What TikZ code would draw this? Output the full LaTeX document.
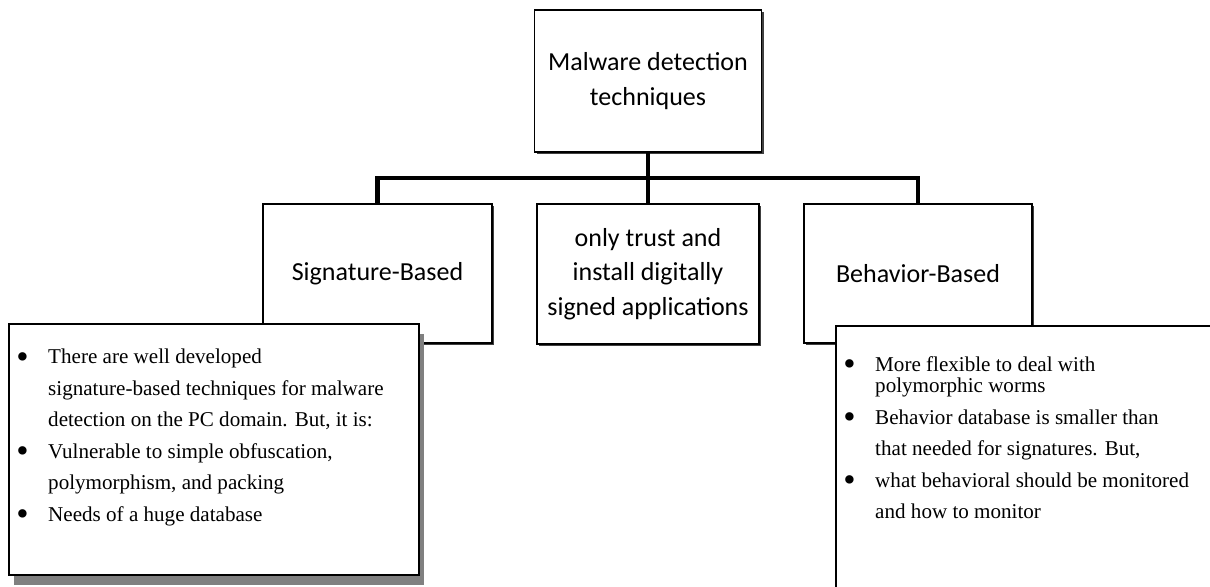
\documentclass[tikz,border=0pt]{standalone}
\usepackage{fontspec}
\setmainfont{Liberation Serif}
\newfontfamily\calfont{Carlito}
\usetikzlibrary{positioning, shadows, calc}
\tikzset{%
	tech/.style={draw, rectangle, line width=1pt, fill=white, align=center,%
		font=\calfont\fontsize{14.8}{19.8}\selectfont,%
		drop shadow={shadow xshift=1.2pt, shadow yshift=-1.2pt, fill=black!75, opacity=1}},
	note/.style={draw, rectangle, line width=1pt, fill=white, inner sep=0mm, anchor=north west},
	greyshadow/.style={drop shadow={shadow xshift=2.8pt, shadow yshift=-5.6pt, fill=black!50, opacity=1}},
	notetext/.style={inner sep=0mm, align=left, anchor=north west,%
		font=\fontsize{12}{17.9}\selectfont},
	bus/.style={line width=2.8pt}
}
\newcommand{\bul}{\makebox[22.7pt][l]{\hspace{4.6pt}\raisebox{-2.4pt}{\fontsize{20}{20}\selectfont\textbullet}}}
\newcommand{\nobul}{\makebox[22.7pt]{}}

\begin{document}
\begin{tikzpicture}[x=0.02cm, y=-0.02cm]
	\useasboundingbox (0,0) rectangle (1210,586);
	\clip (0,0) rectangle (1210,586);
	\node[tech, minimum width=4.54cm, minimum height=2.84cm] (top) at (648,81) {Malware detection\\techniques};
	\node[tech, minimum width=4.58cm, minimum height=2.78cm] (sig) at (377.5,273.5) {Signature-Based};
	\node[tech, minimum width=4.44cm, minimum height=2.80cm] (mid) at (648,274) {only trust and\\install digitally\\signed applications};
	\node[tech, minimum width=4.56cm, minimum height=2.78cm] (beh) at (918,273.5) {Behavior-Based};
	\draw[bus] (top.south) -- (mid.north);
	\draw[bus] (sig.north) |- ($(top.south)!0.5!(mid.north)$) -| (beh.north);

	\node[note, greyshadow, minimum width=8.2cm, minimum height=5.02cm] (sigbox) at (8,323) {};
	\node[notetext] (sigtext) at ($(sigbox.north west)+(0,26)$) {%
		\bul There are well developed\\
		\nobul signature-based techniques for malware\\
		\nobul detection on the PC domain. But, it is:\\
		\bul Vulnerable to simple obfuscation,\\
		\nobul polymorphism, and packing\\
		\bul Needs of a huge database};

	\node[note, minimum width=7.7cm, minimum height=5.5cm] (behbox) at (835,325) {};
	\node[notetext] (behtext) at ($(behbox.north west)+(0,31)$) {%
		\bul More flexible to deal with\\[-5.6pt]
		\nobul polymorphic worms\\
		\bul Behavior database is smaller than\\
		\nobul that needed for signatures. But,\\
		\bul what behavioral should be monitored\\
		\nobul and how to monitor};
\end{tikzpicture}
\end{document}
